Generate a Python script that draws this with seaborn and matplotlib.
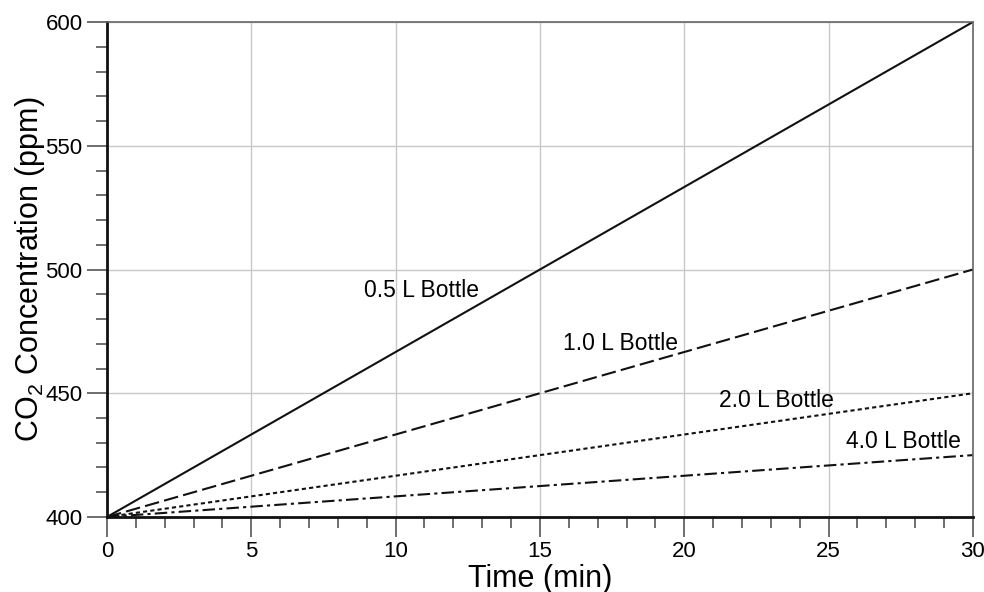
import numpy as np
import pandas as pd
import matplotlib.pyplot as plt
import seaborn as sns
from matplotlib.ticker import MultipleLocator

# Data: CO2 rise in bottles of different volume (linear, two end points)
time_min = [0, 30]
bottles = ['0.5 L Bottle', '1.0 L Bottle', '2.0 L Bottle', '4.0 L Bottle']
co2_start = [400, 400, 400, 400]
co2_end = [600, 500, 450, 425]
label_x = [10.9, 17.8, 23.2, 27.6]
label_y = [491.5, 470, 447, 430.5]

rows = []
for name, a, b in zip(bottles, co2_start, co2_end):
    rows.append({'time': time_min[0], 'co2': a, 'bottle': name})
    rows.append({'time': time_min[1], 'co2': b, 'bottle': name})
df = pd.DataFrame(rows)

sns.set_style('white')
plt.rcParams['font.family'] = ['Liberation Sans', 'DejaVu Sans']
plt.rcParams['mathtext.fontset'] = 'custom'
plt.rcParams['mathtext.rm'] = 'Liberation Sans'
plt.rcParams['mathtext.it'] = 'Liberation Sans:italic'
plt.rcParams['text.color'] = 'black'
plt.rcParams['axes.labelcolor'] = 'black'
plt.rcParams['xtick.labelcolor'] = 'black'
plt.rcParams['ytick.labelcolor'] = 'black'

fig = plt.figure(figsize=(9.84, 5.92), dpi=100)
ax = fig.add_axes([0.1087, 0.1267, 0.88, 0.8361])

dash_styles = {
    '0.5 L Bottle': '',
    '1.0 L Bottle': (7, 2.5),
    '2.0 L Bottle': (2, 1.5),
    '4.0 L Bottle': (6, 2, 1.5, 2),
}
sns.lineplot(data=df, x='time', y='co2', hue='bottle', style='bottle',
             dashes=dash_styles, palette=['#111111'] * 4, linewidth=1.5,
             legend=False, ax=ax)

for name, x, y in zip(bottles, label_x, label_y):
    ax.text(x, y, name, fontsize=16.5, ha='center', va='center', color='black')

ax.set_xlim(0, 30)
ax.set_ylim(400, 600)
ax.xaxis.set_major_locator(MultipleLocator(5))
ax.xaxis.set_minor_locator(MultipleLocator(1))
ax.yaxis.set_major_locator(MultipleLocator(50))
ax.yaxis.set_minor_locator(MultipleLocator(10))
ax.grid(True, which='major', color='#c8c8c8', linewidth=1)
ax.set_axisbelow(True)

ax.tick_params(axis='both', which='major', direction='out', length=14.5, width=1.2,
               labelsize=16, color='#555555', pad=3, bottom=True, left=True)
ax.tick_params(axis='both', which='minor', direction='out', length=8, width=1.2,
               color='#555555', bottom=True, left=True)

for side in ['left', 'bottom']:
    ax.spines[side].set_color('#111111')
    ax.spines[side].set_linewidth(2)
for side in ['top', 'right']:
    ax.spines[side].set_color('#666666')
    ax.spines[side].set_linewidth(1.2)

ax.set_xlabel('Time (min)', fontsize=22, labelpad=1)
ax.set_ylabel('CO$_2$ Concentration (ppm)', fontsize=22, labelpad=-1)

fig.savefig('out.png', dpi=100)
